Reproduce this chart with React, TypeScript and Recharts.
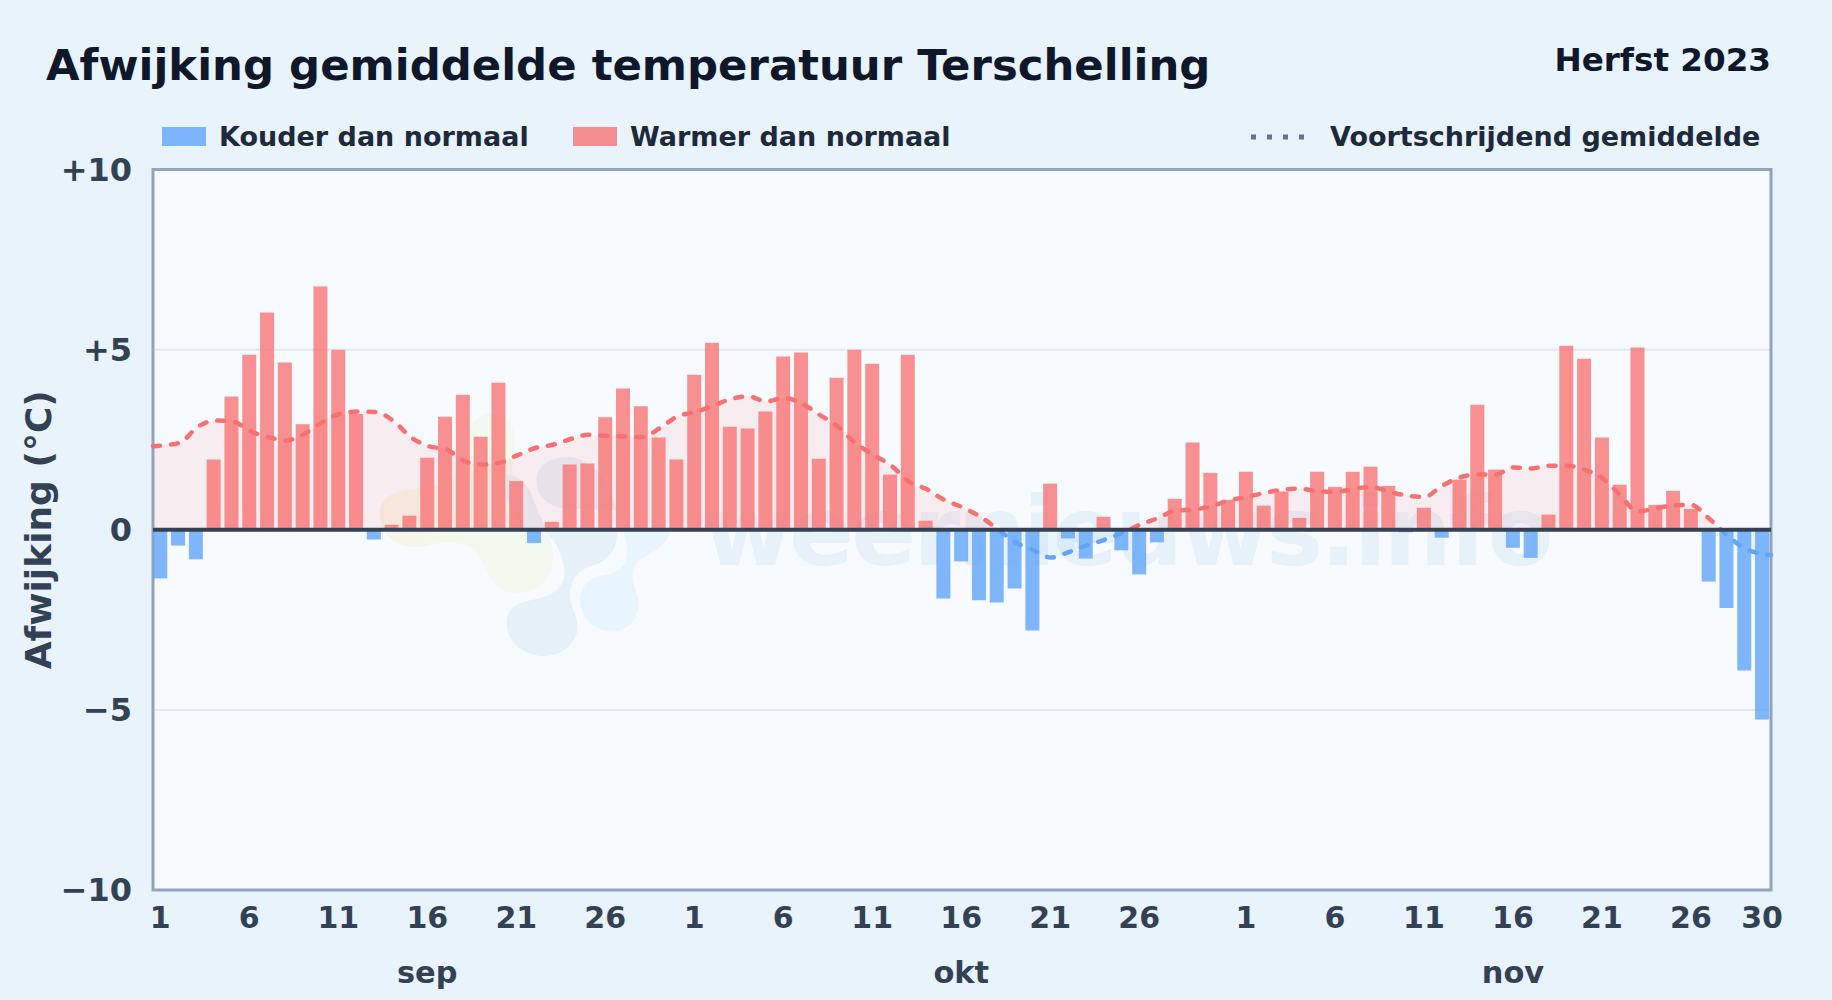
import {
  Area,
  Bar,
  CartesianGrid,
  ComposedChart,
  Line,
  ReferenceArea,
  ReferenceLine,
  XAxis,
  YAxis,
} from "recharts";

const months = [
  { name: "sep", days: 30 },
  { name: "okt", days: 31 },
  { name: "nov", days: 30 },
];

const sepValues = [
  -1.35, -0.44, -0.82, 1.95, 3.7, 4.86, 6.03, 4.64, 2.93, 6.75, 5.0, 3.21, -0.27, 0.14, 0.39,
  2.0, 3.14, 3.75, 2.58, 4.08, 1.35, -0.37, 0.22, 1.81, 1.84, 3.12, 3.92, 3.43, 2.56, 1.95,
];
const oktValues = [
  4.3, 5.19, 2.86, 2.81, 3.28, 4.81, 4.92, 1.97, 4.22, 5.0, 4.61, 1.53, 4.86, 0.25, -1.91, -0.88,
  -1.96, -2.02, -1.63, -2.8, 1.28, -0.24, -0.8, 0.36, -0.57, -1.24, -0.35, 0.86, 2.42, 1.58, 0.83,
];
const novValues = [
  1.61, 0.67, 1.06, 0.33, 1.61, 1.19, 1.61, 1.75, 1.22, -0.07, 0.61, -0.22, 1.39, 3.47, 1.67,
  -0.5, -0.78, 0.42, 5.11, 4.75, 2.56, 1.25, 5.06, 0.69, 1.08, 0.58, -1.44, -2.17, -3.91, -5.27,
];

// moving average, read per day; first and last value sit on the plot edges
const trendStart = 2.32;
const trendEnd = -0.7;
const sepTrend = [
  2.34, 2.41, 2.85, 3.03, 3.0, 2.73, 2.57, 2.48, 2.66, 2.98, 3.22, 3.28, 3.27, 3.03, 2.57,
  2.32, 2.23, 1.91, 1.81, 1.86, 2.07, 2.27, 2.36, 2.52, 2.64, 2.6, 2.59, 2.57, 2.82, 3.15,
];
const oktTrend = [
  3.27, 3.44, 3.63, 3.7, 3.56, 3.66, 3.5, 3.19, 2.87, 2.41, 2.08, 1.79, 1.34, 1.13, 0.83, 0.63,
  0.37, 0.02, -0.35, -0.57, -0.77, -0.62, -0.44, -0.28, -0.09, 0.14, 0.32, 0.53, 0.56, 0.65, 0.81,
];
const novTrend = [
  0.91, 1.02, 1.11, 1.14, 1.07, 1.05, 1.13, 1.19, 1.06, 0.95, 0.91, 1.22, 1.45, 1.54, 1.53,
  1.73, 1.7, 1.78, 1.78, 1.67, 1.44, 0.97, 0.51, 0.59, 0.68, 0.69, 0.32, -0.14, -0.51, -0.67,
];

const yTicks = [-10, -5, 0, 5, 10];
const labeledDays = [1, 6, 11, 16, 21, 26];
const font = "'DejaVu Sans', sans-serif";

const values = [...sepValues, ...oktValues, ...novValues];
const trend = [...sepTrend, ...oktTrend, ...novTrend];

const days = months.flatMap((m) =>
  Array.from({ length: m.days }, (_, i) => ({ month: m.name, day: i + 1 }))
);

const chartData = days.map((d, i) => ({
  key: `${d.month}-${d.day}`,
  day: d.day,
  month: d.month,
  warm: values[i] > 0 ? values[i] : null,
  cold: values[i] < 0 ? values[i] : null,
}));

const trendData = [
  { x: 0, v: trendStart },
  ...trend.map((v, i) => ({ x: i + 0.5, v })),
  { x: days.length, v: trendEnd },
];

const trendMax = Math.max(trendStart, trendEnd, ...trend);
const trendMin = Math.min(trendStart, trendEnd, ...trend);
const zeroOffset = `${(trendMax / (trendMax - trendMin)) * 100}%`;

const dayTicks = [
  ...months.flatMap((m) => labeledDays.map((d) => `${m.name}-${d}`)),
  "nov-30",
];
const monthTicks = months.map((m) => `${m.name}-16`);

const formatY = (v: number) => (v > 0 ? `+${v}` : v < 0 ? `\u2212${-v}` : "0");

const axisText = { fontFamily: font, fontWeight: 700, fill: "#334155" };

function Watermark() {
  return (
    <svg
      width={1832}
      height={1000}
      style={{ position: "absolute", left: 0, top: 0 }}
    >
      <defs>
        <linearGradient id="blob" x1="0" y1="0" x2="1" y2="0">
          <stop offset="0%" stopColor="#f8f3e6" />
          <stop offset="45%" stopColor="#f2f9ee" />
          <stop offset="100%" stopColor="#f2f9ee" />
        </linearGradient>
      </defs>
      <rect x={153} y={169} width={1618} height={721} fill="#f7fbff" />
      <g transform="translate(360 400) scale(0.3333)">
        <path
          d="M60 340C60 285 120 265 190 265C270 262 330 180 330 110C330 60 360 40 400 42C450 45 475 100 465 150C450 210 450 280 510 330C560 370 590 440 575 500C560 560 500 590 440 575C380 555 380 480 330 440C290 420 240 425 190 440C130 450 60 420 60 340Z"
          fill="url(#blob)"
        />
        <path
          d="M440 670C440 620 480 605 530 597C590 585 625 550 610 490C600 445 580 415 555 395L770 395C775 440 750 485 690 500C650 510 625 550 630 600C640 640 660 660 650 700C635 750 590 770 540 768C480 760 440 720 440 670Z"
          fill="#e6f0f9"
        />
        <path
          d="M530 240C530 190 580 170 630 172C700 178 750 250 770 330L600 325C560 310 530 290 530 240Z"
          fill="#e6f0f9"
        />
        <path
          d="M440 225C490 225 510 270 525 310C535 340 550 365 560 385L490 385C460 340 430 290 440 225Z"
          fill="#e6f0f9"
        />
        <path
          d="M660 600C660 560 690 530 730 525C790 520 810 480 800 430L790 395L930 395C920 440 870 460 840 480C810 500 815 540 830 580C850 630 820 690 760 695C700 695 660 650 660 600Z"
          fill="#e9f5fe"
        />
      </g>
      <text
        x={1127}
        y={565}
        textAnchor="middle"
        fontFamily={font}
        fontWeight={700}
        fontSize={96}
        letterSpacing={-3}
        fill="#e7f1fa"
      >
        weernieuws.info
      </text>
    </svg>
  );
}

function Legend() {
  const text: React.CSSProperties = {
    position: "absolute",
    top: 121,
    fontFamily: font,
    fontWeight: 700,
    fontSize: 27,
    lineHeight: "32px",
    color: "#1e293b",
    whiteSpace: "nowrap",
  };
  const swatch: React.CSSProperties = { position: "absolute", top: 127, width: 44, height: 19 };
  return (
    <>
      <div style={{ ...swatch, left: 162, background: "#60a5fa", opacity: 0.8 }} />
      <div style={{ ...text, left: 219 }}>Kouder dan normaal</div>
      <div style={{ ...swatch, left: 573, background: "#f87171", opacity: 0.78 }} />
      <div style={{ ...text, left: 630 }}>Warmer dan normaal</div>
      <svg
        width={60}
        height={10}
        style={{ position: "absolute", left: 1250, top: 132 }}
      >
        <line x1={1} y1={5} x2={58} y2={5} stroke="#64748b" strokeWidth={5} strokeDasharray="5 11" />
      </svg>
      <div style={{ ...text, left: 1330 }}>Voortschrijdend gemiddelde</div>
    </>
  );
}

export default function App() {
  return (
    <div
      style={{
        position: "absolute",
        left: 0,
        top: 0,
        width: 1832,
        height: 1000,
        overflow: "hidden",
        background: "#e8f3fc",
      }}
    >
      <Watermark />
      <div
        style={{
          position: "absolute",
          left: 46,
          top: 37,
          fontFamily: font,
          fontWeight: 700,
          fontSize: 43.4,
          lineHeight: "56px",
          color: "#0f172a",
          whiteSpace: "nowrap",
        }}
      >
        Afwijking gemiddelde temperatuur Terschelling
      </div>
      <div
        style={{
          position: "absolute",
          right: 61,
          top: 41,
          fontFamily: font,
          fontWeight: 700,
          fontSize: 32.6,
          lineHeight: "38px",
          color: "#0f172a",
          whiteSpace: "nowrap",
        }}
      >
        Herfst 2023
      </div>
      <Legend />
      <div style={{ position: "absolute", left: 0, top: 0 }}>
        <ComposedChart
          width={1832}
          height={1000}
          data={chartData}
          barCategoryGap="10.5%"
          margin={{ top: 169.5, right: 61, bottom: 0, left: 0 }}
        >
          <defs>
            <linearGradient id="trendFill" x1="0" y1="0" x2="0" y2="1">
              <stop offset={zeroOffset} stopColor="#f87171" stopOpacity={0.18} />
              <stop offset={zeroOffset} stopColor="#60a5fa" stopOpacity={0.14} />
            </linearGradient>
            <linearGradient id="trendStroke" x1="0" y1="0" x2="0" y2="1">
              <stop offset={zeroOffset} stopColor="#f87171" />
              <stop offset={zeroOffset} stopColor="#60a5fa" />
            </linearGradient>
          </defs>

          <CartesianGrid
            vertical={false}
            horizontalValues={[-5, 5]}
            stroke="#e2e8f0"
            strokeWidth={2}
          />

          <XAxis
            xAxisId="days"
            dataKey="key"
            ticks={dayTicks}
            interval={0}
            height={50}
            padding={{ left: -1.6, right: 0 }}
            tickFormatter={(k: string) => k.split("-")[1]}
            tick={{ ...axisText, fontSize: 30 }}
            tickSize={0}
            tickMargin={17}
            axisLine={false}
          />
          <XAxis
            xAxisId="months"
            dataKey="key"
            ticks={monthTicks}
            interval={0}
            height={60}
            padding={{ left: -1.6, right: 0 }}
            tickFormatter={(k: string) => k.split("-")[0]}
            tick={{ ...axisText, fontSize: 30.4 }}
            tickSize={0}
            tickMargin={21}
            axisLine={false}
          />
          <XAxis
            xAxisId="trend"
            dataKey="x"
            type="number"
            domain={[0, days.length]}
            hide
          />
          <YAxis
            domain={[-10, 10]}
            ticks={yTicks}
            width={153}
            interval={0}
            tickFormatter={formatY}
            tick={{ ...axisText, fontSize: 32 }}
            tickSize={0}
            tickMargin={21}
            axisLine={false}
            label={{
              value: "Afwijking (\u00b0C)",
              angle: -90,
              position: "insideLeft",
              offset: 38,
              style: { ...axisText, fontSize: 36, textAnchor: "middle" },
            }}
          />

          <Area
            xAxisId="trend"
            data={trendData}
            dataKey="v"
            type="monotone"
            stroke="none"
            fill="url(#trendFill)"
            isAnimationActive={false}
          />
          <Bar
            xAxisId="days"
            dataKey="warm"
            stackId="day"
            fill="#f87171"
            fillOpacity={0.78}
            isAnimationActive={false}
          />
          <Bar
            xAxisId="days"
            dataKey="cold"
            stackId="day"
            fill="#60a5fa"
            fillOpacity={0.8}
            isAnimationActive={false}
          />
          <Line
            xAxisId="trend"
            data={trendData}
            dataKey="v"
            type="monotone"
            stroke="url(#trendStroke)"
            strokeWidth={4.5}
            strokeDasharray="7 11"
            strokeLinecap="round"
            dot={false}
            activeDot={false}
            isAnimationActive={false}
          />
          <ReferenceLine xAxisId="trend" y={0} stroke="#334155" strokeWidth={4} />
          <ReferenceArea
            xAxisId="trend"
            y1={-10}
            y2={10}
            fill="none"
            stroke="#94a3b8"
            strokeWidth={3}
          />
        </ComposedChart>
      </div>
    </div>
  );
}
